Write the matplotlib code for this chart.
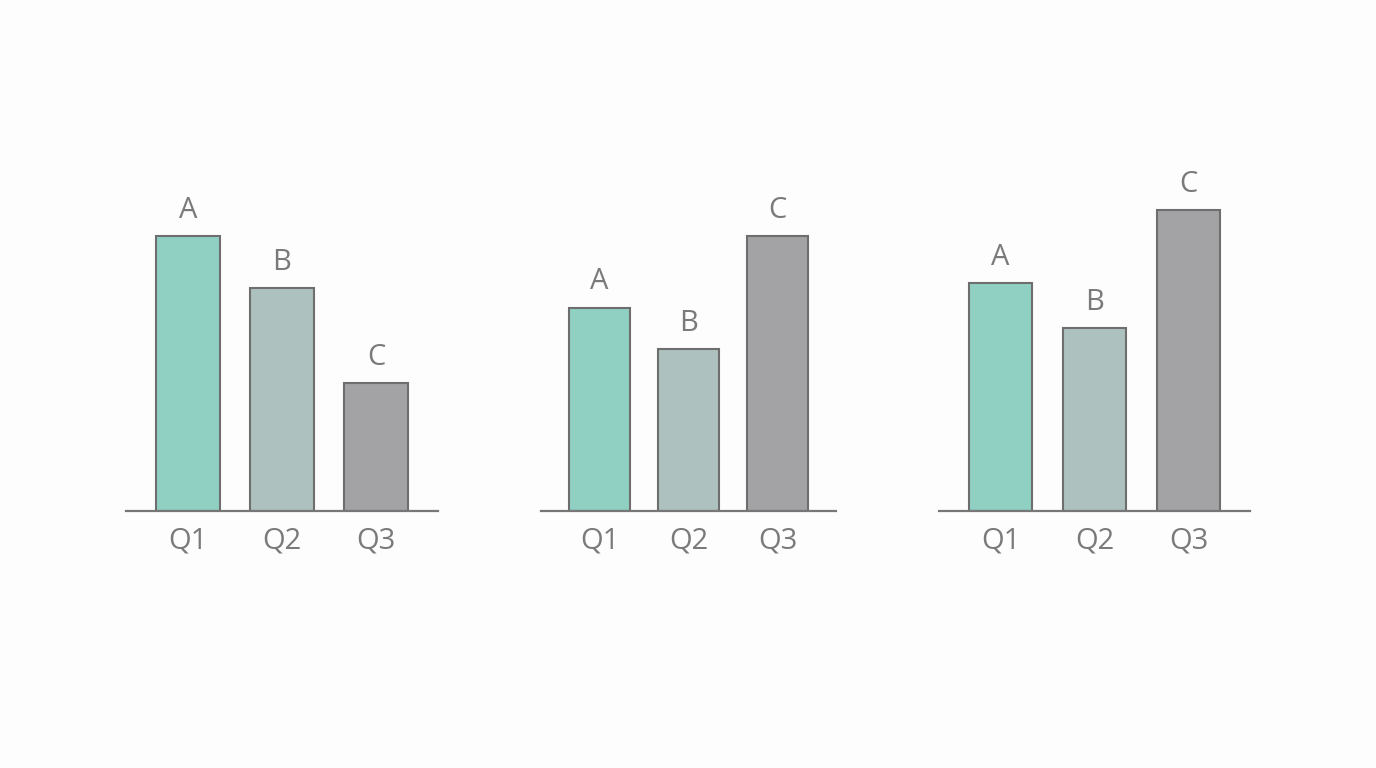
import matplotlib
matplotlib.use("Agg")
import matplotlib.pyplot as plt

# datos de los tres paneles
quarters = ["Q1", "Q2", "Q3"]
bar_labels = ["A", "B", "C"]
panel1 = [10.0, 8.1, 4.65]
panel2 = [7.4, 5.9, 10.0]
panel3 = [8.3, 6.65, 10.95]

colors = ["#8fd0c2", "#adc1be", "#a3a2a4"]
edge = "#6e6e6e"
text_col = "#7a7a7a"

plt.rcParams['font.family'] = ['Open Sans', 'DejaVu Sans']

fig = plt.figure(figsize=(13.76, 7.68), dpi=100)
fig.patch.set_facecolor("#fdfdfd")

W, H = 1376.0, 768.0
base_y = 511
top_y = 100
ymax = (base_y - top_y) / 27.5

# (izquierda, derecha) de cada eje en pixeles
spans = [(126, 438), (541, 836), (939, 1250)]
panels = [panel1, panel2, panel3]

for (x0, x1), vals in zip(spans, panels):
    ax = fig.add_axes([x0 / W, 1 - base_y / H, (x1 - x0) / W, (base_y - top_y) / H])
    ax.set_facecolor("none")
    xs = range(len(vals))
    ax.bar(xs, vals, width=0.68, color=colors, edgecolor=edge, linewidth=1.5, zorder=2)
    for x, v, lab in zip(xs, vals, bar_labels):
        ax.annotate(lab, (x, v), xytext=(0, 8), textcoords="offset points",
                    ha="center", va="bottom", fontsize=21, color=text_col)
    ax.set_xlim(-0.655, 2.655)
    ax.set_ylim(0, ymax)
    ax.set_xticks(list(xs))
    ax.set_xticklabels(quarters, fontsize=21, color=text_col)
    ax.tick_params(axis="x", length=0, pad=11)
    ax.set_yticks([])
    for s in ["top", "right", "left"]:
        ax.spines[s].set_visible(False)
    ax.spines["bottom"].set_color("#777777")
    ax.spines["bottom"].set_linewidth(1.6)
    ax.spines["bottom"].set_zorder(3)

fig.savefig("out.png", dpi=100, facecolor=fig.get_facecolor())
